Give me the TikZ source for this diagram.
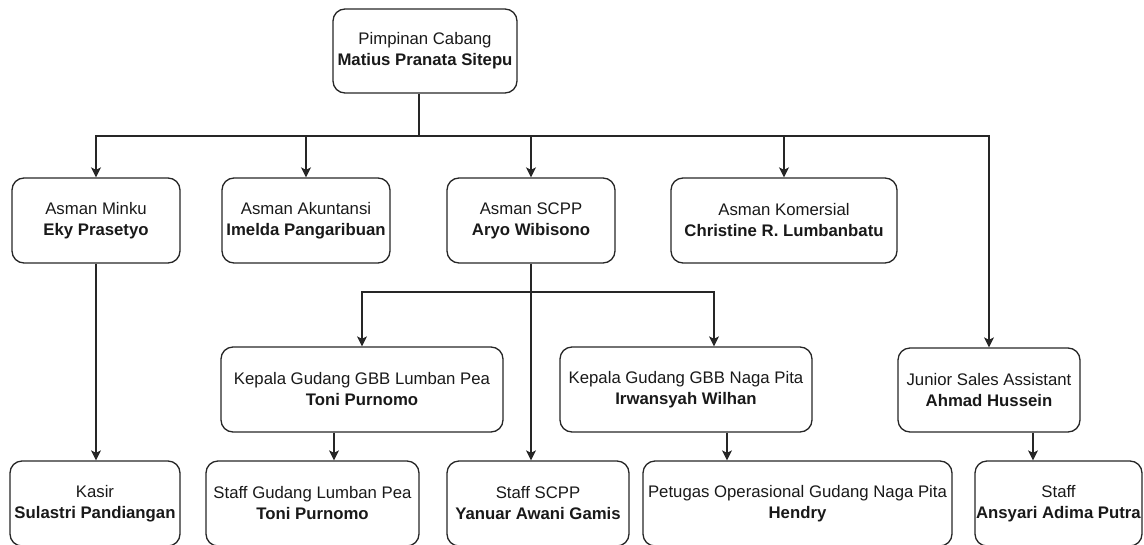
\documentclass[tikz,border=0pt]{standalone}
\usepackage{fontspec}
\setmainfont{Liberation Sans}
\usetikzlibrary{arrows.meta,calc}
\tikzset{
  box/.style={draw=black!85, line width=1.3pt, rounded corners=12pt, align=center,
    inner sep=0pt, font=\fontsize{16.75pt}{21pt}\selectfont, text=black!90},
  arr/.style={draw=black!85, line width=1.3pt, -{Stealth[length=10pt,width=10pt,inset=2.5pt]}},
  ln/.style={draw=black!85, line width=1.3pt},
}
\begin{document}
\begin{tikzpicture}[x=1pt,y=-1pt]
\useasboundingbox (0,0) rectangle (1144,544);
% row 1
\node[box, minimum width=184pt, minimum height=84pt] (top) at (425,51) {Pimpinan Cabang\\\textbf{Matius Pranata Sitepu}};
% row 2
\node[box, minimum width=168pt, minimum height=85pt] (minku) at (96,220.5) {Asman Minku\\\textbf{Eky Prasetyo}};
\node[box, minimum width=168pt, minimum height=85pt] (akun) at (306,220.5) {Asman Akuntansi\\\textbf{Imelda Pangaribuan}};
\node[box, minimum width=168pt, minimum height=85pt] (scpp) at (531,220.5) {Asman SCPP\\\textbf{Aryo Wibisono}};
\node[box, minimum width=226pt, minimum height=85pt] (kom) at (784,220.5) {Asman Komersial\\\textbf{Christine R. Lumbanbatu}};
% row 3
\node[box, minimum width=282pt, minimum height=85pt] (kepLP) at (362,389.5) {Kepala Gudang GBB Lumban Pea\\\textbf{Toni Purnomo}};
\node[box, minimum width=252pt, minimum height=85pt] (kepNP) at (686,389.5) {Kepala Gudang GBB Naga Pita\\\textbf{Irwansyah Wilhan}};
\node[box, minimum width=182pt, minimum height=84pt] (jun) at (989,390) {Junior Sales Assistant\\\textbf{Ahmad Hussein}};
% row 4
\node[box, minimum width=170pt, minimum height=85pt] (kasir) at (95,503.5) {Kasir\\\textbf{Sulastri Pandiangan}};
\node[box, minimum width=213pt, minimum height=85pt] (staffLP) at (312.5,503.5) {Staff Gudang Lumban Pea\\\textbf{Toni Purnomo}};
\node[box, minimum width=182pt, minimum height=85pt] (staffS) at (538,503.5) {Staff SCPP\\\textbf{Yanuar Awani Gamis}};
\node[box, minimum width=309pt, minimum height=85pt] (pet) at (797.5,503.5) {Petugas Operasional Gudang Naga Pita\\\textbf{Hendry}};
\node[box, minimum width=167pt, minimum height=85pt] (ans) at (1058.5,503.5) {Staff\\\textbf{Ansyari Adima Putra}};
% connectors
\coordinate (bus) at (419,136);
\draw[ln] (top.south -| bus) -- (bus);
\draw[arr] (bus) -| (minku.north);
\draw[arr] (bus) -| (akun.north);
\draw[arr] (bus) -| (scpp.north);
\draw[arr] (bus) -| (kom.north);
\draw[arr] (bus) -| (jun.north);
\draw[arr] (minku.south) -- (minku.south |- kasir.north);
\draw[arr] (scpp.south) -- (scpp.south |- staffS.north);
\coordinate (sbus) at (531,292);
\draw[arr] (sbus) -| (kepLP.north);
\draw[arr] (sbus) -| ($(kepNP.north)+(28,0)$);
\draw[arr] ($(kepLP.south)+(-28,0)$) coordinate (a1) -- (a1 |- staffLP.north);
\draw[arr] ($(kepNP.south)+(41,0)$) coordinate (a2) -- (a2 |- pet.north);
\draw[arr] ($(jun.south)+(44,0)$) coordinate (a3) -- (a3 |- ans.north);
\end{tikzpicture}
\end{document}
